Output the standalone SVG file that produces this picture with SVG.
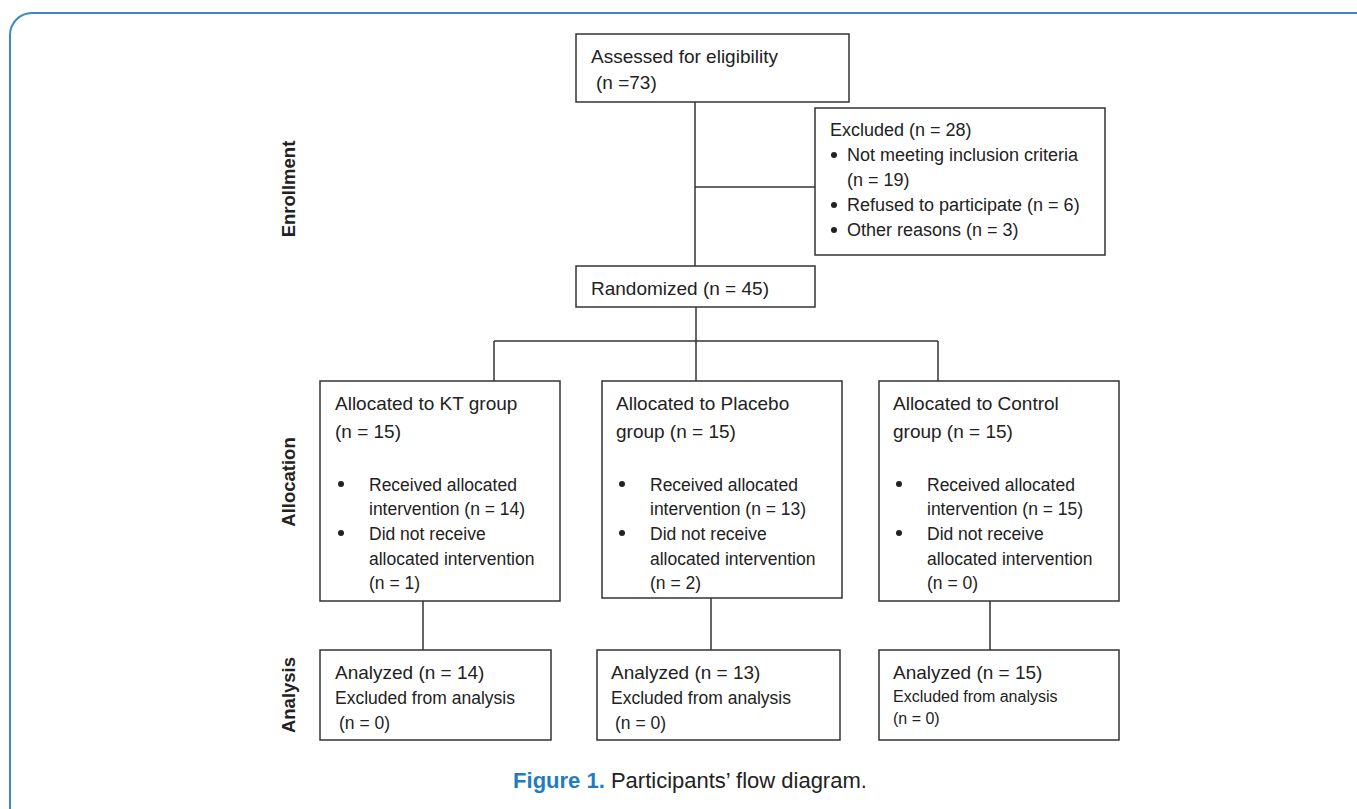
<svg xmlns="http://www.w3.org/2000/svg" width="1357" height="809" viewBox="0 0 1357 809">
<style>
.box{fill:#fff;stroke:#333;stroke-width:1.5}
.ln{stroke:#333;stroke-width:1.5;fill:none}
.t{font-family:"Liberation Sans",Arial,sans-serif;font-size:19px;fill:#222}
.s{font-family:"Liberation Sans",Arial,sans-serif;font-size:17.5px;fill:#222}
.xs{font-family:"Liberation Sans",Arial,sans-serif;font-size:16px;fill:#222}
.e{font-family:"Liberation Sans",Arial,sans-serif;font-size:18px;fill:#222}
.side{font-family:"Liberation Sans",Arial,sans-serif;font-size:18.5px;font-weight:bold;fill:#222}
.dot{fill:#222}
</style>
<rect x="10" y="13" width="1370" height="830" rx="22" ry="22" fill="#fff" stroke="#3b88c9" stroke-width="2"/>
<g id="side-labels">
<text class="side" transform="translate(295,189) rotate(-90)" text-anchor="middle">Enrollment</text>
<text class="side" transform="translate(295,482) rotate(-90)" text-anchor="middle">Allocation</text>
<text class="side" transform="translate(295,695) rotate(-90)" text-anchor="middle">Analysis</text>
</g>
<g id="connectors">
<line class="ln" x1="695" y1="102" x2="695" y2="266"/>
<line class="ln" x1="695" y1="187" x2="815" y2="187"/>
<line class="ln" x1="696" y1="307" x2="696" y2="381"/>
<line class="ln" x1="494" y1="341" x2="938" y2="341"/>
<line class="ln" x1="494" y1="341" x2="494" y2="381"/>
<line class="ln" x1="938" y1="341" x2="938" y2="381"/>
<line class="ln" x1="423" y1="601" x2="423" y2="650"/>
<line class="ln" x1="711" y1="598" x2="711" y2="650"/>
<line class="ln" x1="990" y1="601" x2="990" y2="650"/>
</g>
<g id="assessed">
<rect class="box" x="576" y="34" width="273" height="68"/>
<text class="t" x="591" y="63">Assessed for eligibility</text>
<text class="t" x="596" y="89">(n =73)</text>
</g>
<g id="excluded">
<rect class="box" x="815" y="108" width="290" height="147"/>
<text class="e" x="830" y="136">Excluded (n = 28)</text>
<circle class="dot" cx="834" cy="155" r="3"/>
<text class="e" x="847" y="161">Not meeting inclusion criteria</text>
<text class="e" x="847" y="186">(n = 19)</text>
<circle class="dot" cx="834" cy="205" r="3"/>
<text class="e" x="847" y="211">Refused to participate (n = 6)</text>
<circle class="dot" cx="834" cy="230" r="3"/>
<text class="e" x="847" y="236">Other reasons (n = 3)</text>
</g>
<g id="randomized">
<rect class="box" x="576" y="266" width="239" height="41"/>
<text class="t" x="591" y="295">Randomized (n = 45)</text>
</g>
<g id="alloc-kt">
<rect class="box" x="320" y="381" width="240" height="220"/>
<text class="t" x="335" y="410">Allocated to KT group</text>
<text class="t" x="335" y="438">(n = 15)</text>
<circle class="dot" cx="341" cy="484" r="3"/>
<text class="s" x="369" y="491">Received allocated</text>
<text class="s" x="369" y="515">intervention (n = 14)</text>
<circle class="dot" cx="341" cy="533" r="3"/>
<text class="s" x="369" y="540">Did not receive</text>
<text class="s" x="369" y="565">allocated intervention</text>
<text class="s" x="369" y="589">(n = 1)</text>
</g>
<g id="alloc-placebo">
<rect class="box" x="602" y="381" width="240" height="217"/>
<text class="t" x="616" y="410">Allocated to Placebo</text>
<text class="t" x="616" y="438">group (n = 15)</text>
<circle class="dot" cx="622" cy="484" r="3"/>
<text class="s" x="650" y="491">Received allocated</text>
<text class="s" x="650" y="515">intervention (n = 13)</text>
<circle class="dot" cx="622" cy="533" r="3"/>
<text class="s" x="650" y="540">Did not receive</text>
<text class="s" x="650" y="565">allocated intervention</text>
<text class="s" x="650" y="589">(n = 2)</text>
</g>
<g id="alloc-control">
<rect class="box" x="879" y="381" width="240" height="220"/>
<text class="t" x="893" y="410">Allocated to Control</text>
<text class="t" x="893" y="438">group (n = 15)</text>
<circle class="dot" cx="899" cy="484" r="3"/>
<text class="s" x="927" y="491">Received allocated</text>
<text class="s" x="927" y="515">intervention (n = 15)</text>
<circle class="dot" cx="899" cy="533" r="3"/>
<text class="s" x="927" y="540">Did not receive</text>
<text class="s" x="927" y="565">allocated intervention</text>
<text class="s" x="927" y="589">(n = 0)</text>
</g>
<g id="analysis-kt">
<rect class="box" x="320" y="650" width="231" height="90"/>
<text class="t" x="335" y="679">Analyzed (n = 14)</text>
<text class="s" x="335" y="704">Excluded from analysis</text>
<text class="s" x="339" y="729">(n = 0)</text>
</g>
<g id="analysis-placebo">
<rect class="box" x="597" y="650" width="243" height="90"/>
<text class="t" x="611" y="679">Analyzed (n = 13)</text>
<text class="s" x="611" y="704">Excluded from analysis</text>
<text class="s" x="615" y="729">(n = 0)</text>
</g>
<g id="analysis-control">
<rect class="box" x="879" y="650" width="240" height="90"/>
<text class="t" x="893" y="679">Analyzed (n = 15)</text>
<text class="xs" x="893" y="702">Excluded from analysis</text>
<text class="xs" x="893" y="724">(n = 0)</text>
</g>
<g id="caption">
<text x="690" y="788" text-anchor="middle" style="font-family:'Liberation Sans',Arial,sans-serif;font-size:22px;fill:#222"><tspan style="font-weight:bold;fill:#1f7cc1">Figure 1.</tspan> Participants’ flow diagram.</text>
</g>
</svg>
